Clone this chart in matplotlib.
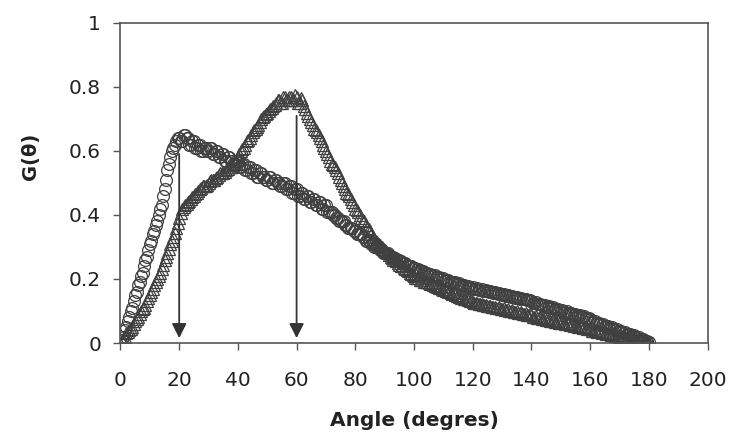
import matplotlib
matplotlib.use("Agg")
import matplotlib.pyplot as plt
from matplotlib.ticker import FuncFormatter

plt.rcParams['font.family'] = ['DejaVu Sans']

# ---- data: angle (degrees) sampled every 0.5 degree from 0 to 180 ----
angles = [i * 0.5 for i in range(361)]

# open circles
g_circles = [
    0.00, 0.01, 0.02, 0.04, 0.05, 0.07, 0.08, 0.10, 0.11, 0.13,
    0.15, 0.16, 0.18, 0.19, 0.21, 0.22, 0.24, 0.26, 0.27, 0.29,
    0.31, 0.32, 0.34, 0.35, 0.37, 0.38, 0.40, 0.42, 0.43, 0.46,
    0.48, 0.51, 0.54, 0.56, 0.58, 0.60, 0.61, 0.62, 0.63, 0.64,
    0.64, 0.63, 0.63, 0.65, 0.65, 0.64, 0.64, 0.62, 0.62, 0.63,
    0.63, 0.61, 0.61, 0.62, 0.62, 0.60, 0.60, 0.61, 0.61, 0.60,
    0.60, 0.61, 0.61, 0.59, 0.59, 0.60, 0.60, 0.58, 0.58, 0.59,
    0.59, 0.57, 0.57, 0.58, 0.58, 0.57, 0.57, 0.56, 0.56, 0.57,
    0.57, 0.55, 0.55, 0.56, 0.56, 0.54, 0.54, 0.55, 0.55, 0.53,
    0.53, 0.54, 0.54, 0.52, 0.52, 0.53, 0.53, 0.52, 0.52, 0.51,
    0.51, 0.52, 0.52, 0.50, 0.50, 0.51, 0.51, 0.50, 0.50, 0.49,
    0.49, 0.50, 0.50, 0.48, 0.48, 0.49, 0.49, 0.47, 0.47, 0.48,
    0.48, 0.46, 0.46, 0.47, 0.47, 0.45, 0.45, 0.46, 0.46, 0.44,
    0.44, 0.45, 0.45, 0.43, 0.43, 0.44, 0.44, 0.42, 0.42, 0.43,
    0.43, 0.41, 0.41, 0.41, 0.41, 0.40, 0.40, 0.39, 0.39, 0.38,
    0.38, 0.38, 0.38, 0.37, 0.37, 0.36, 0.36, 0.36, 0.36, 0.35,
    0.35, 0.34, 0.34, 0.34, 0.34, 0.33, 0.33, 0.32, 0.32, 0.32,
    0.32, 0.31, 0.31, 0.30, 0.30, 0.30, 0.30, 0.29, 0.29, 0.28,
    0.28, 0.28, 0.28, 0.275, 0.27, 0.27, 0.27, 0.265, 0.26, 0.26,
    0.26, 0.255, 0.25, 0.25, 0.25, 0.245, 0.24, 0.24, 0.24, 0.235,
    0.235, 0.233, 0.23, 0.232, 0.227, 0.225, 0.226, 0.221, 0.22, 0.219,
    0.215, 0.216, 0.212, 0.21, 0.211, 0.206, 0.205, 0.206, 0.201, 0.20,
    0.202, 0.197, 0.196, 0.197, 0.192, 0.192, 0.19, 0.188, 0.19, 0.185,
    0.184, 0.186, 0.181, 0.18, 0.182, 0.177, 0.176, 0.177, 0.173, 0.172,
    0.174, 0.170, 0.169, 0.171, 0.167, 0.166, 0.168, 0.164, 0.163, 0.165,
    0.161, 0.160, 0.162, 0.158, 0.157, 0.159, 0.155, 0.154, 0.156, 0.152,
    0.151, 0.153, 0.149, 0.148, 0.150, 0.146, 0.145, 0.147, 0.143, 0.142,
    0.144, 0.140, 0.139, 0.141, 0.137, 0.136, 0.138, 0.134, 0.133, 0.135,
    0.131, 0.126, 0.125, 0.127, 0.122, 0.121, 0.123, 0.118, 0.117, 0.119,
    0.114, 0.113, 0.115, 0.110, 0.109, 0.111, 0.106, 0.105, 0.107, 0.102,
    0.101, 0.103, 0.098, 0.097, 0.099, 0.094, 0.093, 0.095, 0.090, 0.089,
    0.091, 0.086, 0.085, 0.087, 0.082, 0.081, 0.083, 0.078, 0.077, 0.079,
    0.074, 0.068, 0.067, 0.069, 0.063, 0.062, 0.064, 0.058, 0.057, 0.059,
    0.053, 0.052, 0.054, 0.048, 0.047, 0.049, 0.043, 0.042, 0.044, 0.038,
    0.037, 0.039, 0.033, 0.032, 0.034, 0.028, 0.027, 0.029, 0.023, 0.022,
    0.024, 0.018, 0.017, 0.019, 0.013, 0.012, 0.014, 0.008, 0.007, 0.006,
    0.003,
]

# open triangles
g_triangles = [
    0.00, 0.005, 0.01, 0.02, 0.03, 0.035, 0.04, 0.045, 0.05, 0.06,
    0.07, 0.075, 0.08, 0.09, 0.10, 0.105, 0.11, 0.12, 0.13, 0.14,
    0.15, 0.16, 0.17, 0.18, 0.19, 0.20, 0.21, 0.22, 0.23, 0.245,
    0.26, 0.27, 0.28, 0.295, 0.31, 0.32, 0.33, 0.345, 0.36, 0.375,
    0.39, 0.405, 0.42, 0.425, 0.43, 0.435, 0.44, 0.445, 0.45, 0.455,
    0.46, 0.465, 0.47, 0.475, 0.48, 0.485, 0.49, 0.49, 0.49, 0.495,
    0.50, 0.505, 0.51, 0.51, 0.51, 0.515, 0.52, 0.525, 0.53, 0.53,
    0.53, 0.535, 0.54, 0.545, 0.55, 0.55, 0.55, 0.555, 0.56, 0.57,
    0.58, 0.59, 0.60, 0.605, 0.61, 0.62, 0.63, 0.635, 0.64, 0.65,
    0.66, 0.665, 0.67, 0.675, 0.68, 0.69, 0.70, 0.705, 0.71, 0.715,
    0.72, 0.725, 0.73, 0.735, 0.74, 0.745, 0.75, 0.76, 0.76, 0.75,
    0.75, 0.77, 0.77, 0.76, 0.76, 0.77, 0.77, 0.76, 0.76, 0.775,
    0.77, 0.75, 0.75, 0.765, 0.76, 0.74, 0.73, 0.72, 0.71, 0.70,
    0.69, 0.68, 0.67, 0.665, 0.66, 0.65, 0.64, 0.63, 0.62, 0.61,
    0.60, 0.59, 0.58, 0.57, 0.56, 0.555, 0.55, 0.54, 0.53, 0.52,
    0.51, 0.50, 0.49, 0.48, 0.47, 0.465, 0.46, 0.45, 0.44, 0.43,
    0.42, 0.415, 0.41, 0.40, 0.39, 0.385, 0.38, 0.37, 0.36, 0.355,
    0.35, 0.34, 0.33, 0.325, 0.32, 0.315, 0.31, 0.305, 0.30, 0.295,
    0.29, 0.285, 0.28, 0.275, 0.27, 0.265, 0.26, 0.258, 0.255, 0.25,
    0.245, 0.242, 0.24, 0.235, 0.23, 0.228, 0.225, 0.22, 0.216, 0.214,
    0.21, 0.204, 0.202, 0.204, 0.198, 0.196, 0.198, 0.192, 0.190, 0.192,
    0.186, 0.184, 0.186, 0.180, 0.178, 0.180, 0.174, 0.172, 0.174, 0.168,
    0.166, 0.168, 0.162, 0.160, 0.162, 0.156, 0.154, 0.156, 0.150, 0.148,
    0.150, 0.144, 0.142, 0.144, 0.138, 0.136, 0.138, 0.133, 0.131, 0.133,
    0.129, 0.125, 0.124, 0.126, 0.122, 0.121, 0.123, 0.119, 0.118, 0.120,
    0.116, 0.115, 0.117, 0.113, 0.112, 0.114, 0.110, 0.109, 0.111, 0.107,
    0.106, 0.108, 0.104, 0.103, 0.105, 0.101, 0.100, 0.102, 0.098, 0.097,
    0.099, 0.095, 0.094, 0.096, 0.092, 0.091, 0.093, 0.089, 0.088, 0.090,
    0.086, 0.082, 0.081, 0.083, 0.079, 0.078, 0.080, 0.076, 0.075, 0.077,
    0.073, 0.072, 0.074, 0.070, 0.069, 0.071, 0.067, 0.066, 0.068, 0.064,
    0.063, 0.065, 0.061, 0.060, 0.062, 0.058, 0.057, 0.059, 0.055, 0.054,
    0.056, 0.052, 0.051, 0.053, 0.049, 0.048, 0.050, 0.046, 0.045, 0.047,
    0.043, 0.039, 0.038, 0.040, 0.036, 0.035, 0.037, 0.033, 0.032, 0.034,
    0.030, 0.029, 0.031, 0.027, 0.026, 0.028, 0.024, 0.023, 0.025, 0.021,
    0.020, 0.022, 0.018, 0.017, 0.019, 0.015, 0.014, 0.016, 0.012, 0.011,
    0.013, 0.009, 0.008, 0.010, 0.006, 0.005, 0.006, 0.003, 0.002, 0.002,
    0.000,
]

arrow_x = [20, 60]
arrow_top = [0.59, 0.71]
arrow_tip = 0.015

x_ticks = [0, 20, 40, 60, 80, 100, 120, 140, 160, 180, 200]
y_ticks = [0, 0.2, 0.4, 0.6, 0.8, 1]
x_label = "Angle (degres)"
y_label = "G(\u03b8)"

assert len(g_circles) == len(angles) and len(g_triangles) == len(angles)

# ---- figure ----
fig = plt.figure(figsize=(7.32, 4.36), dpi=100)
ax = fig.add_axes([120.5 / 732, 93 / 436, 587 / 732, 320 / 436])

edge = "#404040"
ax.plot(angles, g_triangles, linestyle="none", marker="^", markersize=8.5,
        markerfacecolor="none", markeredgecolor=edge, markeredgewidth=0.9)
ax.plot(angles, g_circles, linestyle="none", marker="o", markersize=8.5,
        markerfacecolor="none", markeredgecolor=edge, markeredgewidth=0.9)

for xa, yt in zip(arrow_x, arrow_top):
    ax.annotate("", xy=(xa, arrow_tip), xytext=(xa, yt),
                arrowprops=dict(arrowstyle="-|>", color="#333333", lw=1.3,
                                mutation_scale=22, shrinkA=0, shrinkB=0))

ax.set_xlim(0, 200)
ax.set_ylim(0, 1)
ax.set_xticks(x_ticks)
ax.set_yticks(y_ticks)
ax.yaxis.set_major_formatter(FuncFormatter(lambda v, p: f"{v:g}"))

for sp in ax.spines.values():
    sp.set_color("#555555")
    sp.set_linewidth(1.2)
ax.tick_params(axis="both", direction="out", length=5, width=1.0,
               color="#555555", labelsize=14.5, labelcolor="#222222")
ax.tick_params(axis="y", pad=9)
ax.tick_params(axis="x", pad=15)

ax.set_xlabel(x_label, fontsize=14.5, fontweight="bold", color="#222222", labelpad=15)
ax.set_ylabel(y_label, fontsize=14, fontweight="bold", color="#222222")
ax.yaxis.label.set_va("center")
ax.yaxis.set_label_coords(-0.154, 0.584)

fig.savefig("out.png", dpi=100, facecolor="white")
